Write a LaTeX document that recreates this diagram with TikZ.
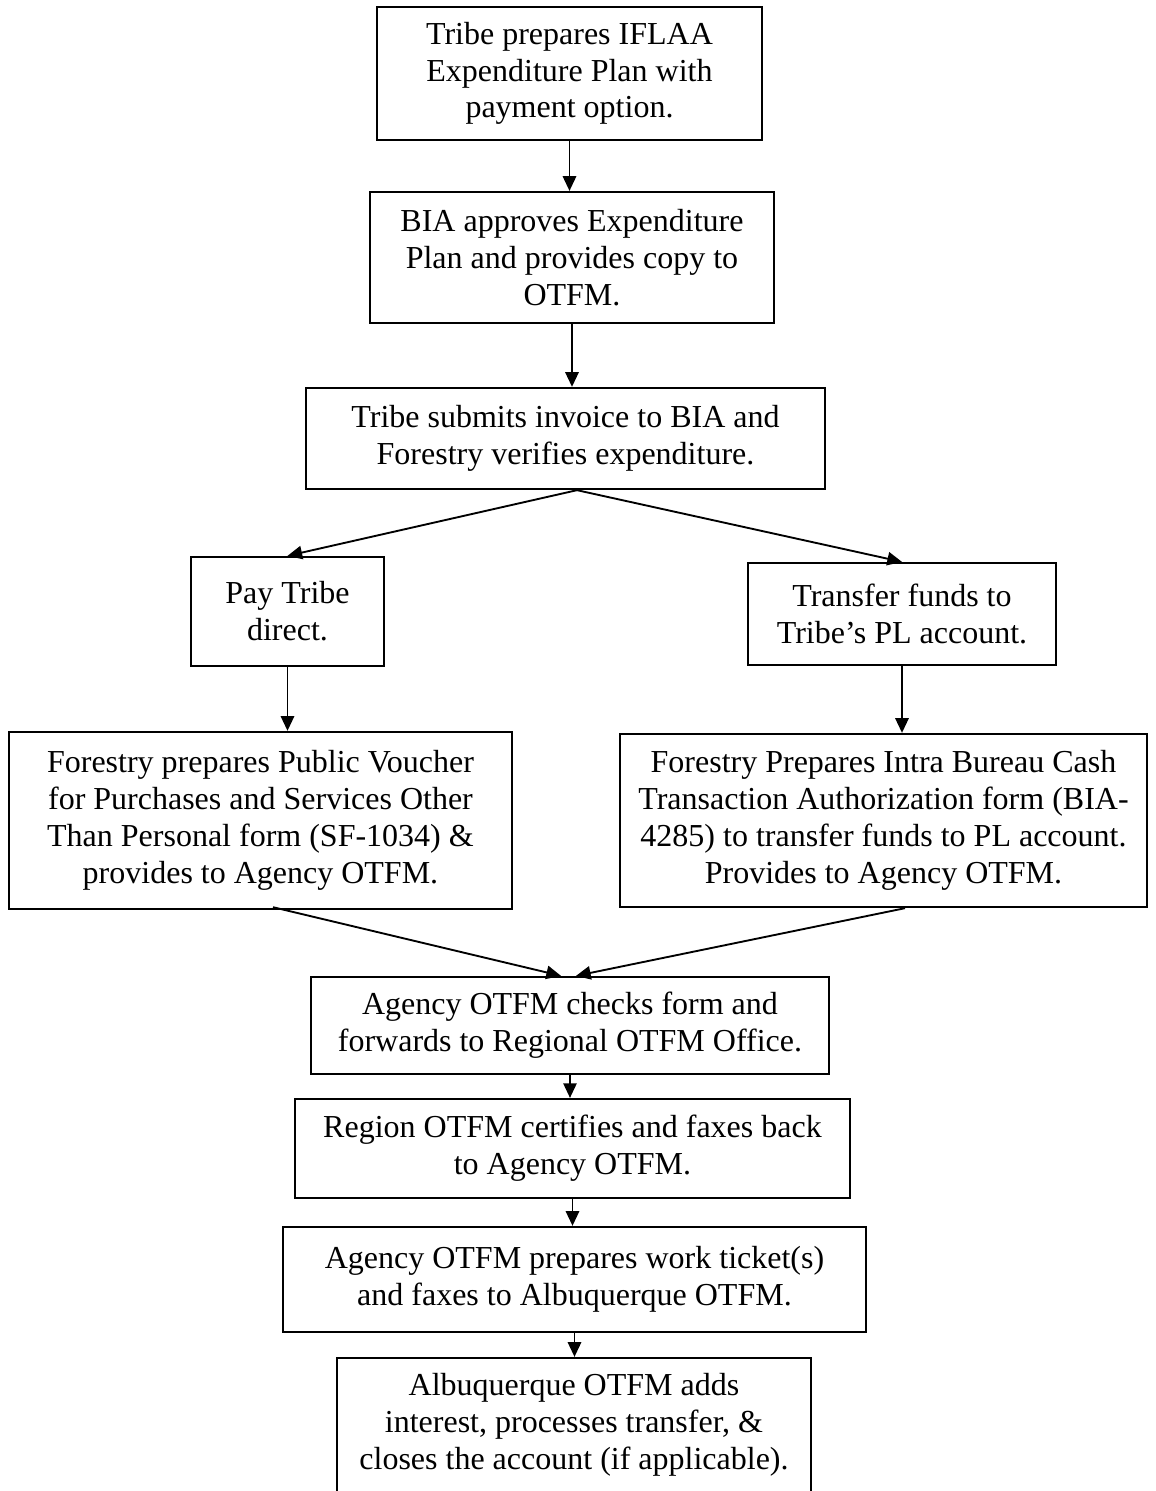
\documentclass[tikz,border=0pt]{standalone}
\usepackage{fontspec}
\setmainfont{Liberation Serif}
\usetikzlibrary{arrows.meta,calc}

\begin{document}
\begin{tikzpicture}[x=0.375pt,y=-0.375pt,
		box/.style={draw,line width=0.85pt,inner sep=0pt,align=center,font=\fontsize{12}{13.8}\selectfont},
		arr/.style={-{Triangle[length=5.5pt,width=5pt]},line width=0.7pt}]
		% page size of the reference
		\useasboundingbox (0,0) rectangle (1156,1491);
		\clip (0,0) rectangle (1156,1491);
		
		% the steps, top to bottom
		\node[box,minimum width=144.4pt,minimum height=49.9pt] (b1) at (569.5,73.5) {Tribe prepares IFLAA\\Expenditure Plan with\\payment option.};
		\node[box,minimum width=151.5pt,minimum height=49.1pt] (b2) at (572,257.5) {BIA approves Expenditure\\Plan and provides copy to\\OTFM.};
		\node[box,minimum width=194.6pt,minimum height=37.9pt] (b3) at (565.5,438.5) {Tribe submits invoice to BIA and\\Forestry verifies expenditure.};
		
		% the two payment options
		\node[box,minimum width=72.4pt,minimum height=40.9pt] (b4) at (287.5,611.5) {Pay Tribe\\direct.};
		\node[box,minimum width=115.5pt,minimum height=38.25pt] (b5) at (902,614) {Transfer funds to\\Tribe’s PL account.};
		\node[box,minimum width=188.6pt,minimum height=66.4pt] (b6) at (260.5,820.5) {Forestry prepares Public Voucher\\for Purchases and Services Other\\Than Personal form (SF-1034) \&\\provides to Agency OTFM.};
		\node[box,minimum width=197.6pt,minimum height=64.9pt] (b7) at (883.5,820.5) {Forestry Prepares Intra Bureau Cash\\Transaction Authorization form (BIA-\\4285) to transfer funds to PL account.\\Provides to Agency OTFM.};
		
		% OTFM processing
		\node[box,minimum width=194.25pt,minimum height=36.4pt] (b8) at (570,1025.5) {Agency OTFM checks form and\\forwards to Regional OTFM Office.};
		\node[box,minimum width=208.1pt,minimum height=37.1pt] (b9) at (572.5,1148.5) {Region OTFM certifies and faxes back\\to Agency OTFM.};
		\node[box,minimum width=218.6pt,minimum height=39.4pt] (b10) at (574.5,1279.5) {Agency OTFM prepares work ticket(s)\\and faxes to Albuquerque OTFM.};
		\node[box,minimum width=177.75pt,minimum height=50.25pt] (b11) at (574,1425) {Albuquerque OTFM adds\\interest, processes transfer, \&\\closes the account (if applicable).};
		
		% straight down arrows
		\foreach \from/\to in {b1/b2,b2/b3,b4/b6,b5/b7,b8/b9,b9/b10,b10/b11} {
			\draw[arr] (\from.south) -- (\from.south |- \to.north);
		}
		
		% split after verification
		\coordinate (split) at ($(b3.south)+(11.5,0)$);
		\draw[arr] (split) -- (b4.north);
		\draw[arr] (split) -- (b5.north);
		
		% both forms go to Agency OTFM
		\draw[arr] ($(b6.south)+(12.5,-3)$) -- ($(b8.north)+(-9,0)$);
		\draw[arr] ($(b7.south)+(21.5,0)$) -- ($(b8.north)+(6,0)$);
\end{tikzpicture}
\end{document}
